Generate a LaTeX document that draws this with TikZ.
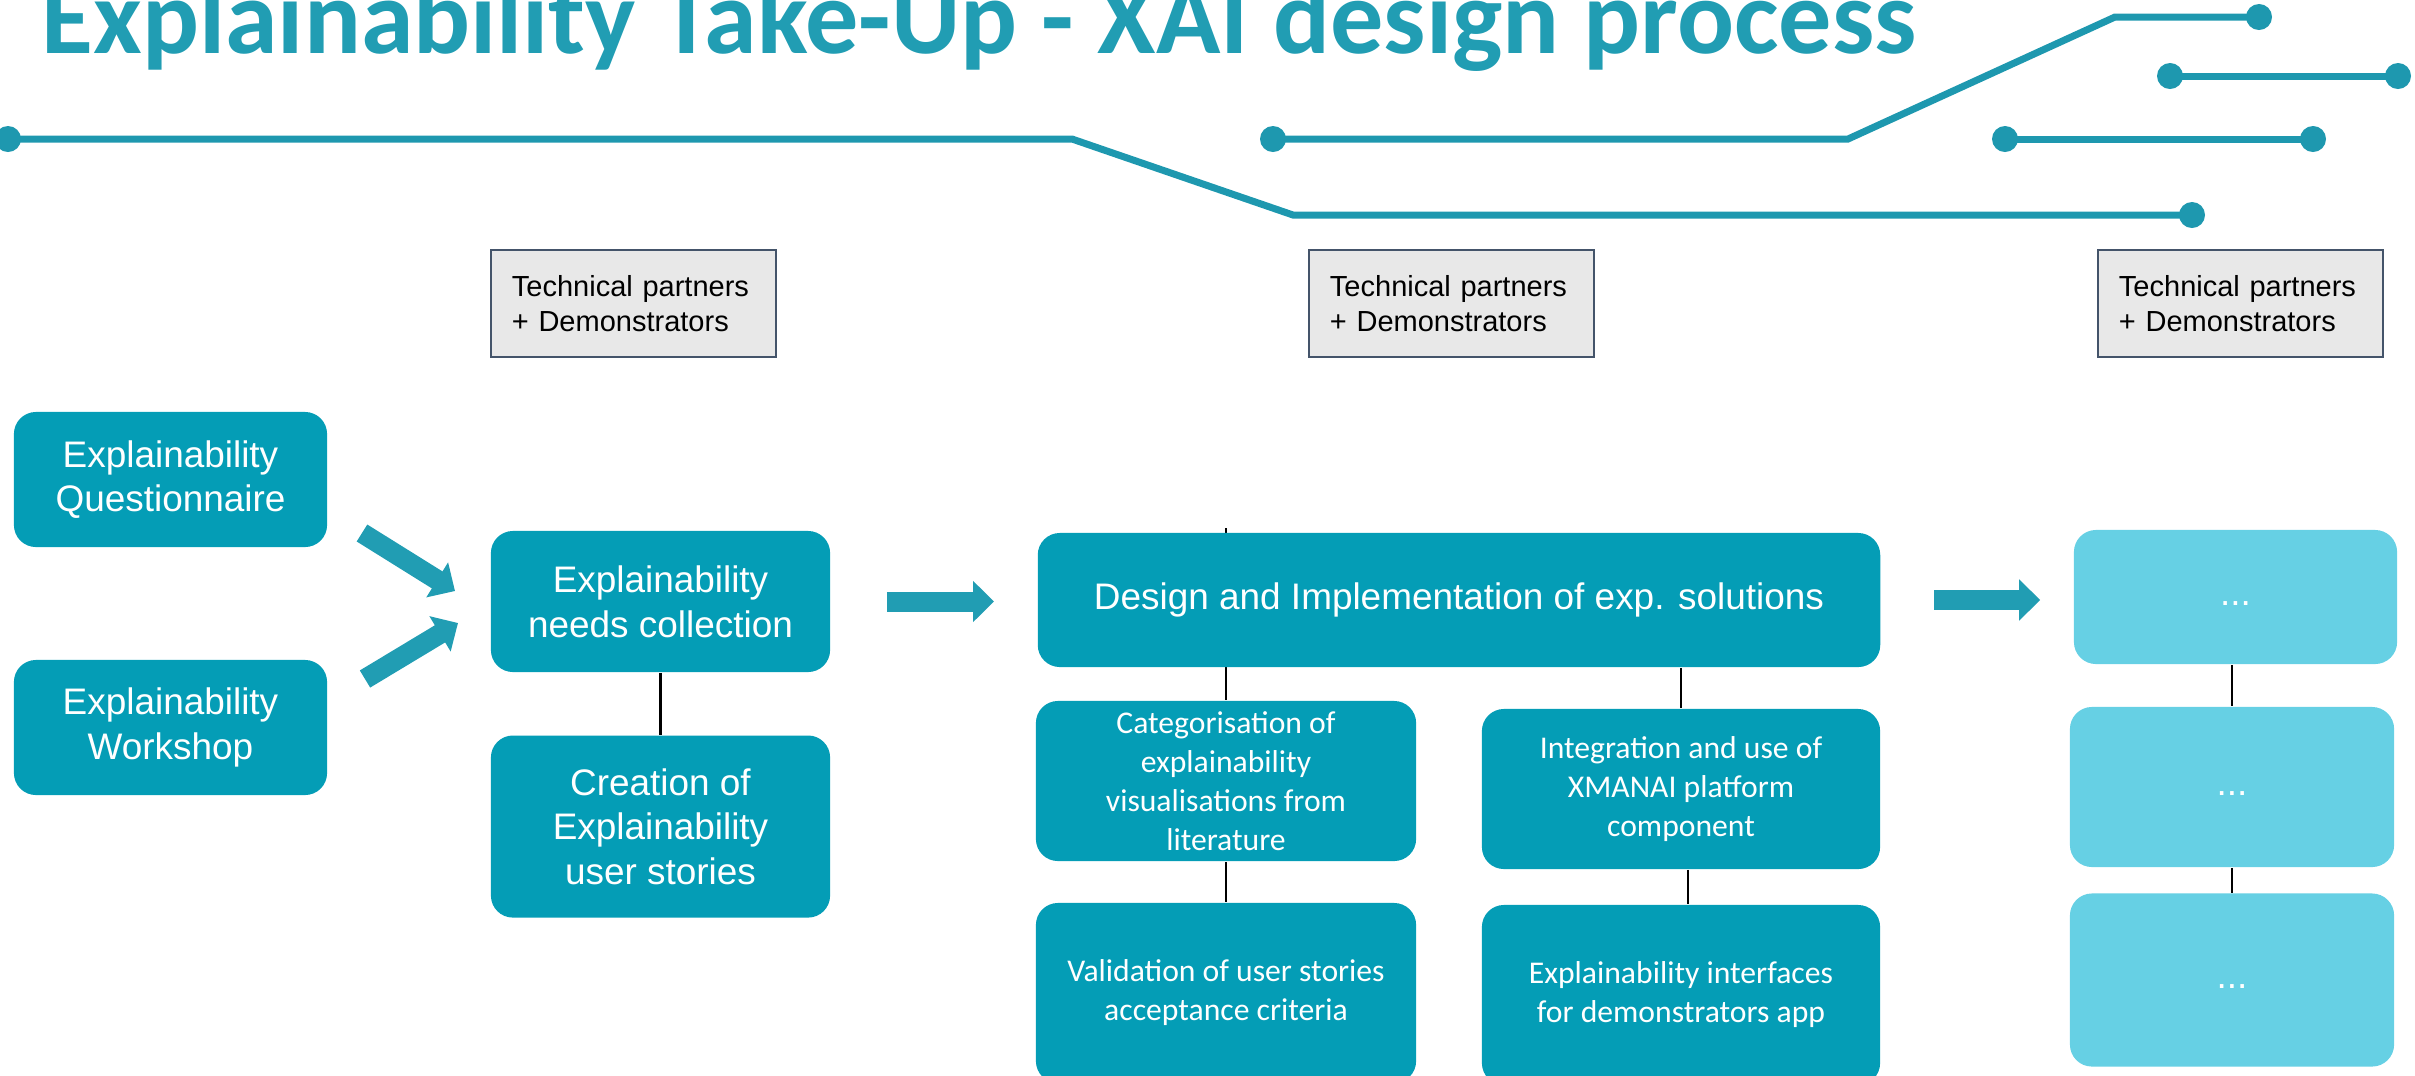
\documentclass[tikz,border=0pt]{standalone}
\usepackage{fontspec}
\setmainfont{Liberation Sans}
\newfontfamily\calibri{Carlito}
\usetikzlibrary{arrows.meta,positioning,backgrounds,calc}

\begin{document}
\begin{tikzpicture}[x=0.01cm,y=-0.01cm,node distance=0.62cm]
\definecolor{petrol}{RGB}{4,157,182}
\definecolor{hellpetrol}{RGB}{102,208,228}
\definecolor{pfeilfarbe}{RGB}{33,157,179}
\definecolor{leiterfarbe}{RGB}{30,152,175}
\definecolor{schiefer}{RGB}{68,84,106}
\colorlet{hellgrau}{black!9}
\tikzstyle{kasten}=[rectangle,rounded corners=0.22cm,fill=petrol,text=white,align=center,inner sep=0pt,font=\fontsize{10.5pt}{12.7pt}\selectfont]
\tikzstyle{kastenklein}=[kasten,font=\calibri\fontsize{9pt}{11.1pt}\selectfont]
\tikzstyle{hellkasten}=[kasten,fill=hellpetrol]
\tikzstyle{partner}=[rectangle,draw=schiefer,line width=0.02cm,fill=hellgrau,minimum width=2.85cm,minimum height=1.07cm,text width=2.43cm,align=left,inner sep=0pt,font=\fontsize{8.25pt}{10pt}\selectfont]
\tikzstyle{pfeil}=[draw=pfeilfarbe,line width=0.2cm,-{Triangle[length=0.21cm,width=0.40cm]}]
\tikzstyle{linie}=[draw=black,line width=0.025cm]
\tikzstyle{leiter}=[draw=leiterfarbe,line width=0.07cm]
\tikzstyle{punkt}=[circle,fill=leiterfarbe,inner sep=0pt,minimum size=0.26cm]

\useasboundingbox (0,0) rectangle (2415,1075);

% Titel, oben abgeschnitten wie im Original
\node[anchor=base west,inner sep=0pt,text=pfeilfarbe,font=\calibri\bfseries\fontsize{30.2pt}{32pt}\selectfont] (titel) at (41,53) {Explainability Take-Up - XAI design process};

% Leiterbahnen
\draw[leiter] (8,139) node[punkt] (p1) {} -- (1072,139) -- (1293,215) -- (2192,215) node[punkt] (p2) {};
\draw[leiter] (1273,139) node[punkt] (p3) {} -- (1848,139) -- (2115,17) -- (2259,17) node[punkt] (p4) {};
\draw[leiter] (2170,76) node[punkt] (p5) {} -- (2398,76) node[punkt] (p6) {};
\draw[leiter] (2005,139) node[punkt] (p7) {} -- (2313,139) node[punkt] (p8) {};

\node[partner] (partner1) at (633.5,303.5) {Technical partners\\+ Demonstrators};
\node[partner] (partner2) at (1451.5,303.5) {Technical partners\\+ Demonstrators};
\node[partner] (partner3) at (2240.5,303.5) {Technical partners\\+ Demonstrators};

\node[kasten,minimum width=3.13cm,minimum height=1.35cm] (frageb) at (170.5,479.5) {Explainability\\Questionnaire};
\node[kasten,minimum width=3.13cm,minimum height=1.35cm] (workshop) at (170.5,727.5) {Explainability\\Workshop};
\node[kasten,minimum width=3.39cm,minimum height=1.41cm] (bedarf) at (660.5,601.5) {Explainability\\needs collection};
\node[kasten,minimum width=3.39cm,minimum height=1.82cm,below=of bedarf] (stories) {Creation of\\Explainability\\user stories};

\node[kasten,minimum width=8.42cm,minimum height=1.34cm] (design) at (1459,600) {Design and Implementation of exp. solutions};
\node[kastenklein,minimum width=3.80cm,minimum height=1.60cm] (kategorie) at (1226,781) {Categorisation of\\explainability\\visualisations from\\literature};
\node[kastenklein,minimum width=3.98cm,minimum height=1.60cm] (integration) at (1681,789) {Integration and use of\\XMANAI platform\\component};
\node[kastenklein,minimum width=3.80cm,minimum height=1.80cm] (validierung) at (1226,993) {Validation of user stories\\acceptance criteria};
\node[kastenklein,minimum width=3.98cm,minimum height=1.80cm] (schnittstellen) at (1681,995) {Explainability interfaces\\for demonstrators app};

\node[hellkasten,minimum width=3.23cm,minimum height=1.34cm] (weiter1) at (2235.5,597) {\strut...};
\node[hellkasten,minimum width=3.24cm,minimum height=1.60cm] (weiter2) at (2232,787) {\strut...};
\node[hellkasten,minimum width=3.24cm,minimum height=1.73cm] (weiter3) at (2232,980) {\strut...};

% Verbindungslinien hinter den Kaesten
\begin{scope}[on background layer]
\draw[linie] (bedarf) -- (stories);
\draw[linie] ($(kategorie.north |- design.north)+(0,-4)$) -- (kategorie.north);
\draw[linie] (kategorie) -- (validierung);
\draw[linie] (integration.north |- design.south) -- (integration.north);
\draw[linie] ([xshift=0.07cm]integration.south) -- ([xshift=0.07cm]schnittstellen.north);
\draw[linie] (weiter2.north |- weiter1.south) -- (weiter2.north);
\draw[linie] (weiter2) -- (weiter3);
\end{scope}

% Blockpfeile
\coordinate (f1) at (362,533);
\coordinate (f1spitze) at (455,591);
\coordinate (f2) at (365,679);
\coordinate (f2spitze) at (458,623);
\draw[pfeil] (f1) -- (f1spitze);
\draw[pfeil] (f2) -- (f2spitze);
\draw[pfeil,shorten <=0.56cm,shorten >=0.43cm] (bedarf.east) -- (bedarf.east -| design.west);
\draw[pfeil,shorten <=0.53cm,shorten >=0.33cm] (design.east) -- (design.east -| weiter1.west);
\end{tikzpicture}
\end{document}
